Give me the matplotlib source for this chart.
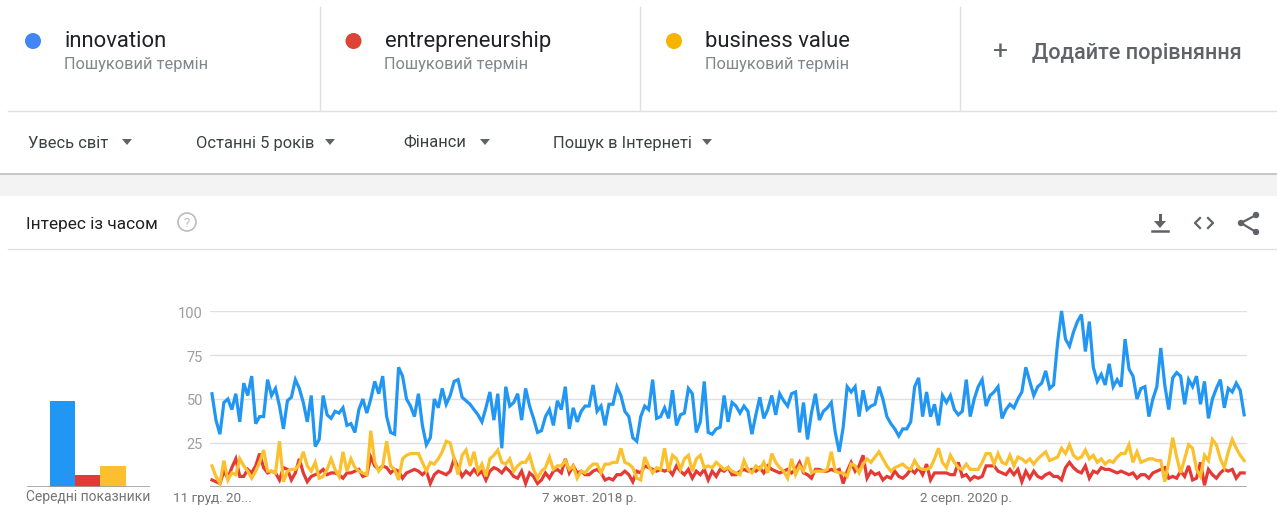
import matplotlib
matplotlib.use('Agg')
import matplotlib.pyplot as plt
import pandas as pd
from matplotlib.patches import Circle, Rectangle, Polygon

plt.rcParams['font.family'] = ['Roboto', 'DejaVu Sans']

# ---- data (weekly, last 5 years) ----
terms = ['innovation', 'entrepreneurship', 'business value']
term_note = 'Пошуковий термін'
add_compare = 'Додайте порівняння'
filters = ['Увесь світ', 'Останні 5 років', 'Фінанси', 'Пошук в Інтернеті']
panel_title = 'Інтерес із часом'
avg_label = 'Середні показники'

innovation = [
    53, 38, 30, 48, 50, 44, 53, 37, 59, 52, 63, 36, 40, 40, 61, 52, 56, 46, 33, 49, 51, 61,
    56, 48, 37, 52, 23, 27, 52, 41, 39, 43, 42, 45, 35, 36, 31, 44, 50, 42, 50, 60, 53, 63,
    40, 31, 30, 68, 63, 50, 46, 40, 53, 35, 24, 28, 50, 45, 56, 47, 52, 60, 61, 51, 49, 47,
    44, 41, 37, 45, 54, 38, 53, 22, 57, 46, 48, 53, 38, 56, 46, 39, 31, 32, 40, 44, 35, 49,
    44, 57, 33, 45, 37, 43, 46, 46, 58, 43, 46, 35, 47, 47, 57, 52, 43, 40, 28, 26, 40, 46,
    44, 61, 39, 40, 45, 39, 55, 35, 41, 42, 56, 53, 31, 37, 60, 31, 30, 33, 34, 52, 37,
    48, 46, 42, 46, 43, 30, 41, 51, 39, 44, 52, 41, 53, 49, 46, 53, 54, 31, 48, 27, 42, 53,
    38, 43, 45, 48, 31, 20, 34, 57, 54, 57, 40, 55, 44, 46, 47, 57, 50, 40, 36, 33, 29, 33,
    33, 37, 57, 62, 40, 54, 40, 47, 35, 52, 48, 52, 44, 41, 43, 61, 40, 50, 57, 61, 46,
    52, 54, 57, 39, 44, 47, 45, 50, 54, 68, 60, 52, 57, 59, 66, 56, 58, 82, 100, 84, 80,
    88, 94, 98, 77, 94, 68, 60, 64, 58, 70, 57, 61, 57, 84, 67, 63, 50, 56, 57, 40, 50, 57,
    79, 58, 44, 62, 65, 63, 47, 61, 57, 63, 47, 60, 39, 50, 56, 61, 45, 56, 54, 59, 55, 41,
]
entrepreneurship = [
    4, 3, 2, 9, 5, 11, 16, 6, 6, 10, 8, 12, 19, 11, 8, 9, 8, 4, 11, 10, 4, 8,
    16, 8, 3, 6, 7, 8, 10, 7, 8, 8, 7, 5, 8, 8, 9, 10, 6, 7, 17, 12, 10, 12,
    11, 8, 10, 9, 5, 8, 9, 10, 9, 7, 9, 2, 7, 9, 8, 7, 9, 16, 11, 6, 9, 7,
    10, 7, 9, 4, 9, 11, 10, 8, 11, 9, 6, 5, 9, 2, 8, 6, 2, 4, 8, 5, 9, 10,
    8, 16, 8, 12, 8, 9, 7, 7, 9, 10, 8, 4, 5, 4, 7, 7, 9, 7, 3, 9, 8, 12,
    11, 10, 9, 10, 9, 10, 7, 12, 9, 7, 10, 5, 9, 7, 10, 4, 9, 6, 10, 9, 11,
    7, 7, 9, 10, 9, 10, 9, 11, 8, 12, 10, 9, 8, 9, 10, 8, 10, 14, 8, 7, 5, 10,
    10, 9, 9, 10, 9, 10, 2, 9, 14, 9, 12, 18, 5, 9, 7, 8, 4, 6, 5, 9, 6, 5,
    7, 10, 8, 11, 7, 13, 4, 8, 8, 8, 8, 7, 7, 14, 6, 7, 4, 6, 5, 6, 12,
    12, 12, 9, 8, 7, 10, 7, 10, 3, 9, 5, 9, 6, 5, 7, 8, 6, 6, 4, 11, 14,
    11, 9, 8, 12, 5, 9, 8, 11, 10, 10, 9, 8, 9, 8, 7, 8, 5, 7, 7, 5, 8, 9,
    10, 11, 5, 6, 5, 9, 6, 12, 4, 5, 14, 1, 10, 7, 5, 8, 10, 9, 10, 5, 8, 8,
]
business_value = [
    12, 6, 2, 15, 4, 8, 7, 16, 12, 9, 5, 9, 14, 21, 9, 9, 8, 26, 3, 9, 10, 10,
    13, 20, 12, 9, 14, 5, 6, 10, 16, 10, 6, 20, 9, 16, 11, 9, 8, 7, 32, 14, 9, 12,
    26, 12, 10, 4, 16, 18, 19, 19, 19, 14, 9, 14, 13, 16, 20, 26, 25, 16, 7, 18, 21, 12,
    20, 9, 13, 6, 16, 18, 21, 14, 13, 16, 9, 12, 14, 14, 18, 10, 5, 9, 11, 17, 10, 12,
    12, 15, 10, 12, 5, 9, 8, 11, 13, 13, 8, 13, 13, 14, 14, 22, 14, 13, 11, 5, 4, 17,
    12, 8, 11, 10, 22, 9, 18, 16, 10, 16, 18, 9, 16, 18, 11, 12, 11, 14, 12, 10, 11,
    9, 8, 7, 15, 10, 8, 12, 10, 14, 8, 19, 14, 11, 9, 5, 16, 7, 12, 9, 17, 8, 9,
    9, 9, 10, 20, 9, 8, 8, 6, 13, 12, 8, 13, 16, 14, 17, 20, 16, 12, 9, 11, 12, 13,
    11, 10, 15, 11, 10, 10, 11, 16, 22, 14, 11, 18, 14, 11, 10, 13, 10, 10, 10, 14, 19,
    19, 13, 19, 14, 13, 18, 12, 17, 16, 14, 16, 13, 16, 18, 20, 15, 16, 17, 22, 19, 24,
    18, 16, 17, 21, 16, 18, 14, 16, 13, 15, 14, 17, 19, 19, 24, 14, 20, 14, 15, 16, 16, 15,
    15, 3, 14, 28, 17, 8, 16, 24, 22, 10, 6, 18, 15, 27, 24, 16, 11, 20, 27, 22, 18, 15,
]
averages = [49, 7, 12]

weeks = pd.date_range('2016-12-11', periods=len(innovation), freq='W-SUN')
tick_dates = pd.to_datetime(['2016-12-11', '2018-10-07', '2020-08-02'])
tick_labels = ['11 груд. 20...', '7 жовт. 2018 р.', '2 серп. 2020 р.']
y_ticks = [0, 25, 50, 75, 100]
y_tick_labels = ['', '25', '50', '75', '100']

dot_colors = ['#4285f4', '#db4437', '#f4b400']
line_colors = ['#2196f3', '#e53935', '#fbc02d']

W, H = 1277, 506
fig = plt.figure(figsize=(W / 100, H / 100), dpi=100)
fig.patch.set_facecolor('white')


def px_axes(x0, y0, x1, y1):
    return fig.add_axes([x0 / W, 1 - y1 / H, (x1 - x0) / W, (y1 - y0) / H])


# background canvas in pixel coords (y down)
bg = px_axes(0, 0, W, H)
bg.set_xlim(0, W)
bg.set_ylim(H, 0)
bg.axis('off')

grey_line = '#e0e0e0'
# header: search terms
for i, (term, col) in enumerate(zip(terms, dot_colors)):
    x0 = 33 + i * 320.5
    bg.add_patch(Circle((x0, 42), 8, color=col, lw=0))
    bg.text(x0 + 31, 41, term, fontsize=15.8, color='#202124', va='center')
    bg.text(x0 + 31, 64, term_note, fontsize=11.8, color='#80868b', va='center')
for xd in [320, 640, 960]:
    bg.plot([xd, xd], [8, 112], color=grey_line, lw=1)
bg.plot([8, W], [112, 112], color=grey_line, lw=1)
bg.text(1000, 52, '+', fontsize=19, color='#5f6368', va='center', ha='center')
bg.text(1032, 53, add_compare, fontsize=15.6, color='#5f6368', va='center',
        fontweight='medium')

# filter row
filter_x = [28, 196, 403, 553]
arrow_x = [127, 330, 485, 707]
for fx, ax_, label in zip(filter_x, arrow_x, filters):
    bg.text(fx, 143, label, fontsize=11.9, color='#3c4043', va='center')
    bg.add_patch(Polygon([[ax_ - 5, 140], [ax_ + 5, 140], [ax_, 146]],
                         closed=True, color='#5f6368', lw=0))
bg.plot([0, W], [175, 175], color='#c8c8c8', lw=1.5)
bg.add_patch(Rectangle((0, 176), W, 21, color='#f3f3f3', lw=0))

# panel title row
bg.text(26, 224, panel_title, fontsize=12.4, color='#202124', va='center')
bg.add_patch(Circle((187, 223), 9, fill=False, ec='#bdbdbd', lw=1.2))
bg.text(187, 223.5, '?', fontsize=9.5, color='#bdbdbd', ha='center', va='center')
bg.plot([8, W], [250, 250], color=grey_line, lw=1)

# icons: download, embed, share
ic = '#5f6368'
bg.add_patch(Rectangle((1158.5, 215), 3, 8, color=ic, lw=0))
bg.add_patch(Polygon([[1154, 222], [1166, 222], [1160, 229]], closed=True, color=ic, lw=0))
bg.plot([1152, 1168], [232, 232], color=ic, lw=1.8)
bg.plot([1200, 1195, 1200], [219, 224, 229], color=ic, lw=1.6)
bg.plot([1208, 1213, 1208], [219, 224, 229], color=ic, lw=1.6)
share_pts = [(1256, 216), (1241, 224), (1256, 233)]
bg.plot([p[0] for p in share_pts], [p[1] for p in share_pts], color=ic, lw=1.6)
for p in share_pts:
    bg.add_patch(Circle(p, 3.2, color=ic, lw=0))

# ---- average bars ----
bar_ax = px_axes(27, 312, 150, 488)
bar_ax.bar([0, 1, 2], averages, width=1, color=line_colors, zorder=2)
bar_ax.set_xlim(-1.4, 3.46)
bar_ax.set_ylim(0, 100)
bar_ax.axhline(0, color='#9e9e9e', lw=1.2, zorder=3)
bar_ax.axis('off')
bg.text(88, 497, avg_label, fontsize=10, color='#757575', ha='center', va='center')

# ---- interest over time ----
ax = px_axes(210, 312, 1247, 488)
ax.set_facecolor('none')
for series, col in zip([innovation, entrepreneurship, business_value],
                       [line_colors[0], line_colors[1], line_colors[2]]):
    ax.plot(weeks, series, color=col, lw=2.3, clip_on=False, zorder=3,
            solid_joinstyle='miter')
ax.set_xlim(weeks[0] - pd.Timedelta(days=3.5), weeks[-1] + pd.Timedelta(days=5))
ax.set_ylim(0, 100)
ax.set_yticks(y_ticks)
ax.set_yticklabels(y_tick_labels)
ax.set_xticks(tick_dates)
ax.set_xticklabels(tick_labels)
ax.tick_params(axis='both', length=0, labelsize=10.5, colors='#9e9e9e')
ax.tick_params(axis='x', pad=3, labelsize=9.7, labelcolor='#757575')
ax.tick_params(axis='y', pad=5)
ax.grid(axis='y', color=grey_line, lw=1)
ax.axhline(0, color='#9e9e9e', lw=1.2, zorder=2)
for s in ax.spines.values():
    s.set_visible(False)

fig.savefig('out.png', dpi=100, facecolor=fig.get_facecolor())
